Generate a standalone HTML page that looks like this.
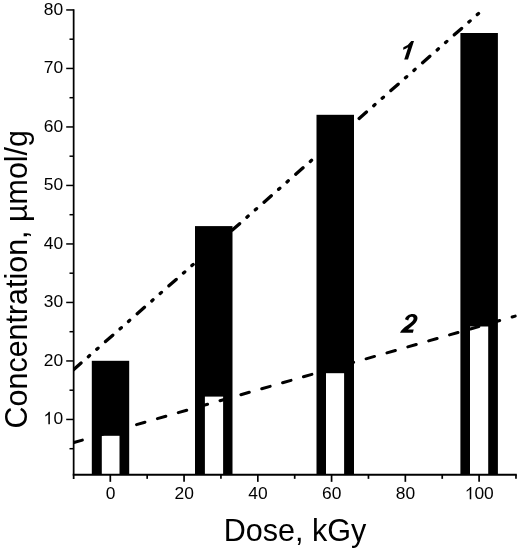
<!DOCTYPE html>
<html><head><meta charset="utf-8"><title>Chart</title>
<style>
html,body{margin:0;padding:0;background:#fff;}
body{width:519px;height:550px;overflow:hidden;}
svg{display:block;will-change:transform;}
text{font-family:"Liberation Sans",sans-serif;fill:#000;}
</style></head><body>
<svg width="519" height="550" viewBox="0 0 519 550">
<rect width="519" height="550" fill="#fff"/>
<rect x="91.8" y="360.8" width="37.40" height="114.05" fill="#000"/>
<rect x="101.8" y="435.8" width="17.70" height="39.55" fill="#fff"/>
<rect x="195.0" y="226.1" width="37.50" height="248.75" fill="#000"/>
<rect x="204.9" y="396.6" width="18.20" height="78.75" fill="#fff"/>
<rect x="316.5" y="114.8" width="37.50" height="360.05" fill="#000"/>
<rect x="326.0" y="373.2" width="18.10" height="102.15" fill="#fff"/>
<rect x="460.4" y="33.0" width="37.50" height="441.85" fill="#000"/>
<rect x="470.0" y="326.5" width="18.20" height="148.85" fill="#fff"/>
<clipPath id="cp"><rect x="73.7" y="0" width="446" height="475"/></clipPath>
<g clip-path="url(#cp)"><path d="M42.07 397.38 L481.0 11.34" stroke="#000" stroke-width="3.3" fill="none" stroke-linecap="round" stroke-dasharray="9.7 9.7 1.7 9.5 1.7 9.93"/>
<path d="M32.21 454.49 L515.2 316.11" stroke="#000" stroke-width="3.0" fill="none" stroke-linecap="round" stroke-dasharray="8.75 12.956"/></g>
<line x1="73.65" y1="9.15" x2="73.65" y2="478.9" stroke="#000" stroke-width="1.75"/>
<line x1="72.75" y1="474.85" x2="516.8" y2="474.85" stroke="#000" stroke-width="2.0"/>
<line x1="69.50" y1="448.70" x2="73.7" y2="448.70" stroke="#000" stroke-width="1.5"/>
<line x1="66.20" y1="419.45" x2="73.7" y2="419.45" stroke="#000" stroke-width="1.5"/>
<text x="63.2" y="424.05" font-size="17.4" text-anchor="end">0</text>
<path d="M49.88 424.15 L48.35 424.15 L48.35 414.40 Q47.10 415.60 45.32 416.43 L45.32 414.95 Q47.90 413.75 48.90 411.80 L49.88 411.80 Z" fill="#000"/>
<line x1="69.50" y1="390.20" x2="73.7" y2="390.20" stroke="#000" stroke-width="1.5"/>
<line x1="66.20" y1="360.95" x2="73.7" y2="360.95" stroke="#000" stroke-width="1.5"/>
<text x="63.2" y="365.55" font-size="17.4" text-anchor="end">20</text>
<line x1="69.50" y1="331.70" x2="73.7" y2="331.70" stroke="#000" stroke-width="1.5"/>
<line x1="66.20" y1="302.45" x2="73.7" y2="302.45" stroke="#000" stroke-width="1.5"/>
<text x="63.2" y="307.05" font-size="17.4" text-anchor="end">30</text>
<line x1="69.50" y1="273.20" x2="73.7" y2="273.20" stroke="#000" stroke-width="1.5"/>
<line x1="66.20" y1="243.95" x2="73.7" y2="243.95" stroke="#000" stroke-width="1.5"/>
<text x="63.2" y="248.55" font-size="17.4" text-anchor="end">40</text>
<line x1="69.50" y1="214.70" x2="73.7" y2="214.70" stroke="#000" stroke-width="1.5"/>
<line x1="66.20" y1="185.45" x2="73.7" y2="185.45" stroke="#000" stroke-width="1.5"/>
<text x="63.2" y="190.05" font-size="17.4" text-anchor="end">50</text>
<line x1="69.50" y1="156.20" x2="73.7" y2="156.20" stroke="#000" stroke-width="1.5"/>
<line x1="66.20" y1="126.95" x2="73.7" y2="126.95" stroke="#000" stroke-width="1.5"/>
<text x="63.2" y="131.55" font-size="17.4" text-anchor="end">60</text>
<line x1="69.50" y1="97.70" x2="73.7" y2="97.70" stroke="#000" stroke-width="1.5"/>
<line x1="66.20" y1="68.45" x2="73.7" y2="68.45" stroke="#000" stroke-width="1.5"/>
<text x="63.2" y="73.05" font-size="17.4" text-anchor="end">70</text>
<line x1="69.50" y1="39.20" x2="73.7" y2="39.20" stroke="#000" stroke-width="1.5"/>
<line x1="66.20" y1="9.95" x2="73.7" y2="9.95" stroke="#000" stroke-width="1.5"/>
<text x="63.2" y="14.55" font-size="17.4" text-anchor="end">80</text>
<line x1="110.30" y1="474.85" x2="110.30" y2="481.85" stroke="#000" stroke-width="1.7"/>
<text x="110.50" y="499.35" font-size="17.4" text-anchor="middle">0</text>
<line x1="147.18" y1="474.85" x2="147.18" y2="478.85" stroke="#000" stroke-width="1.7"/>
<line x1="184.06" y1="474.85" x2="184.06" y2="481.85" stroke="#000" stroke-width="1.7"/>
<text x="184.26" y="499.35" font-size="17.4" text-anchor="middle">20</text>
<line x1="220.94" y1="474.85" x2="220.94" y2="478.85" stroke="#000" stroke-width="1.7"/>
<line x1="257.82" y1="474.85" x2="257.82" y2="481.85" stroke="#000" stroke-width="1.7"/>
<text x="258.02" y="499.35" font-size="17.4" text-anchor="middle">40</text>
<line x1="294.70" y1="474.85" x2="294.70" y2="478.85" stroke="#000" stroke-width="1.7"/>
<line x1="331.58" y1="474.85" x2="331.58" y2="481.85" stroke="#000" stroke-width="1.7"/>
<text x="331.78" y="499.35" font-size="17.4" text-anchor="middle">60</text>
<line x1="368.46" y1="474.85" x2="368.46" y2="478.85" stroke="#000" stroke-width="1.7"/>
<line x1="405.34" y1="474.85" x2="405.34" y2="481.85" stroke="#000" stroke-width="1.7"/>
<text x="405.54" y="499.35" font-size="17.4" text-anchor="middle">80</text>
<line x1="442.22" y1="474.85" x2="442.22" y2="478.85" stroke="#000" stroke-width="1.7"/>
<line x1="479.10" y1="474.85" x2="479.10" y2="481.85" stroke="#000" stroke-width="1.7"/>
<text x="474.46" y="499.35" font-size="17.4">00</text>
<path d="M471.26 499.35 L469.73 499.35 L469.73 489.60 Q468.48 490.80 466.70 491.63 L466.70 490.15 Q469.28 488.95 470.28 487.00 L471.26 487.00 Z" fill="#000"/>
<line x1="515.98" y1="474.85" x2="515.98" y2="478.85" stroke="#000" stroke-width="1.7"/>
<text x="223.7" y="540.5" font-size="30.55">Dose, kGy</text>
<text transform="translate(27.3,428.4) rotate(-90)" font-size="30.45">Concentration, µmol/g</text>
<path d="M405.0 319.3 C406.0 316.2 408.9 314.1 412.7 314.1 C415.8 314.1 417.5 315.8 417.5 318.1 C417.5 321.0 415.6 323.0 413.3 325.0 L408.0 329.6 L413.7 329.6 L412.9 332.7 L400.0 332.7 C401.2 329.8 403.8 327.8 407.4 325.2 C411.5 322.2 413.6 320.4 413.6 318.5 C413.6 317.4 412.8 316.8 411.6 316.8 C409.9 316.8 408.8 318.2 408.2 320.5 Z" fill="#000"/>
<path d="M414.0 41.1 L408.0 59.6 L404.2 59.6 L408.2 47.2 Q405.8 48.9 403.1 49.7 L403.4 47.3 Q408.5 45.5 411.3 41.1 Z" fill="#000"/>
</svg>
</body></html>
